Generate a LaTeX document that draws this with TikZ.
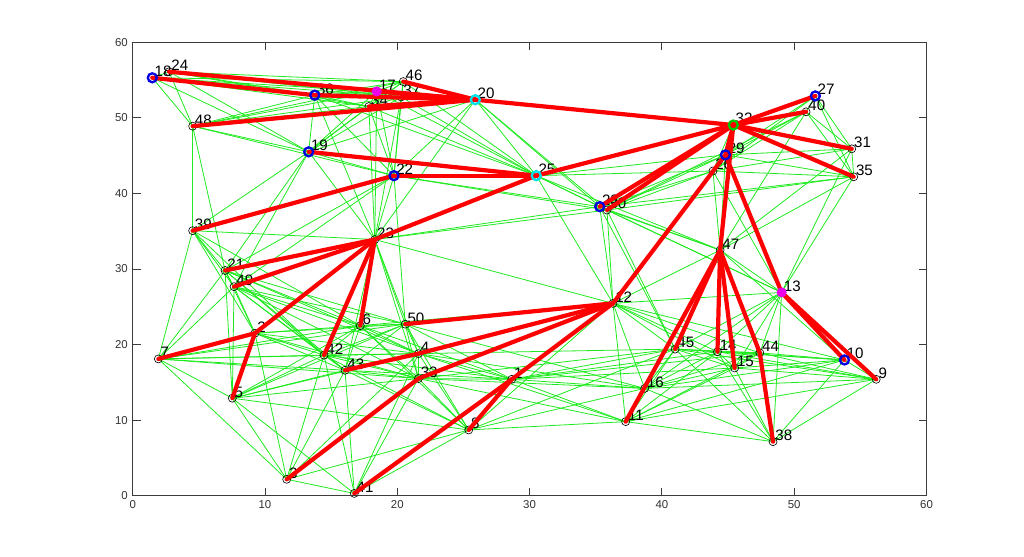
\documentclass[tikz,border=0pt]{standalone}
\usepackage{fontspec}
\setmainfont{Liberation Sans}
\definecolor{gline}{RGB}{30,235,30}
\definecolor{rline}{RGB}{255,0,0}
\definecolor{chblue}{RGB}{0,0,225}
\definecolor{chcyan}{RGB}{0,225,235}
\definecolor{chmag}{RGB}{235,0,235}
\definecolor{chgreen}{RGB}{0,200,0}
\definecolor{axcol}{RGB}{60,60,60}
\tikzset{
  gedge/.style={gline, line width=0.45pt},
  redge/.style={rline, line width=2.4pt, line cap=round},
  mk/.style={circle, draw=black, line width=0.35pt, inner sep=0pt, minimum size=1.6mm},
  chb/.style={circle, draw=chblue, line width=1.3pt, inner sep=0pt, minimum size=1.8mm},
  chc/.style={circle, draw=chcyan, line width=1.3pt, inner sep=0pt, minimum size=1.8mm},
  chm/.style={circle, draw=chmag, fill=chmag, line width=1.1pt, inner sep=0pt, minimum size=1.6mm},
  chg/.style={circle, draw=chgreen, fill=rline, line width=1.3pt, inner sep=0pt, minimum size=1.8mm},
  lab/.style={anchor=west, font=\fontsize{8.6}{10}\selectfont, inner sep=0pt, xshift=0.4mm, yshift=1.25mm},
  ticklab/.style={font=\fontsize{6.5}{7}\selectfont, inner sep=0pt, text=black!80},
  axisline/.style={axcol, line width=0.5pt},
}
\def\pts{1/28.65/15.4, 2/9.24/21.5, 3/11.64/2.17, 4/21.6/18.8, 5/7.53/12.9,
 6/17.2/22.5, 7/1.94/18.1, 8/25.4/8.7, 9/56.2/15.4, 10/53.8/17.96,
 11/37.26/9.8, 12/36.3/25.45, 13/49.05/26.9, 14/44.2/19.05, 15/45.5/16.9,
 16/38.7/14.2, 17/18.44/53.5, 18/1.48/55.3, 19/13.3/45.5, 20/25.9/52.4,
 21/6.98/29.8, 22/19.75/42.35, 23/18.3/33.9, 24/2.75/56.1, 25/30.5/42.35,
 26/43.86/42.97, 27/51.6/52.9, 28/35.3/38.25, 29/44.8/45.1, 30/35.85/37.8,
 31/54.35/45.9, 32/45.4/49.05, 33/21.6/15.5, 34/17.85/51.5, 35/54.5/42.2,
 36/13.76/53.0, 37/20.29/52.76, 38/48.4/7.15, 39/4.53/35.07, 40/50.9/50.8,
 41/16.75/0.3, 42/14.46/18.6, 43/16.05/16.6, 44/47.4/18.9, 45/41.0/19.4,
 46/20.45/54.8, 47/44.4/32.5, 48/4.53/48.9, 49/7.66/27.66, 50/20.6/22.7}
\begin{document}
\begin{tikzpicture}
\useasboundingbox (0,0) rectangle (204.8mm,111.4mm);
\fill[white] (0,0) rectangle (204.8mm,111.4mm);
\begin{scope}[shift={(26.54mm,12.26mm)}, x=2.646mm, y=1.5114mm]
  % node positions
  \foreach \i/\x/\y in \pts { \coordinate (n\i) at (\x,\y); }
  % communication graph (green)
  \foreach \i/\xi/\yi in \pts {
    \foreach \j/\xj/\yj in \pts {
      \ifnum\i<\j
        \pgfmathsetmacro\dd{veclen(\xi-\xj,\yi-\yj)}
        \ifdim\dd pt<20pt
          \draw[gedge] (n\i) -- (n\j);
        \fi
      \fi
    }
  }
  % plain markers
  \foreach \i in {1,...,50} { \node[mk] (m\i) at (n\i) {}; }
  % labels
  \foreach \i in {1,...,50} { \node[lab] (l\i) at (n\i) {\i}; }
  % routing tree (red)
  \foreach \a/\b in {18/36, 36/20, 24/20, 17/20, 34/20, 37/20, 46/20, 48/20,
      20/32, 19/25, 22/25, 39/22, 23/25, 25/32, 21/23, 49/23, 2/23, 6/23,
      42/23, 7/2, 5/2, 50/12, 43/4, 4/12, 33/12, 3/33, 41/1, 8/1, 1/12,
      12/29, 11/47, 45/47, 14/47, 15/47, 44/47, 38/44, 47/32, 13/29,
      10/13, 9/13, 29/32, 28/32, 30/32, 27/32, 40/32, 31/32, 35/32}
    { \draw[redge] (n\a) -- (n\b); }
  % cluster-head markers
  \foreach \i in {18,36,19,22,27,29,28,10} { \node[chb] (c\i) at (n\i) {}; }
  \foreach \i in {20,25} { \node[chc] (c\i) at (n\i) {}; }
  \foreach \i in {17,13} { \node[chm] (c\i) at (n\i) {}; }
  \node[chg] (c32) at (n32) {};
  % axes
  \draw[axisline] (0,0) rectangle (60,60);
  \foreach \k in {0,10,...,60} {
    \draw[axisline] (\k,0) -- ++(0,1.5mm);
    \draw[axisline] (\k,60) -- ++(0,-1.5mm);
    \draw[axisline] (0,\k) -- ++(1.6mm,0);
    \draw[axisline] (60,\k) -- ++(-1.6mm,0);
    \node[ticklab, anchor=north] (tx\k) at ([yshift=-0.9mm]\k,0) {\k};
    \node[ticklab, anchor=east] (ty\k) at ([xshift=-0.9mm]0,\k) {\k};
  }
\end{scope}
\end{tikzpicture}
\end{document}
